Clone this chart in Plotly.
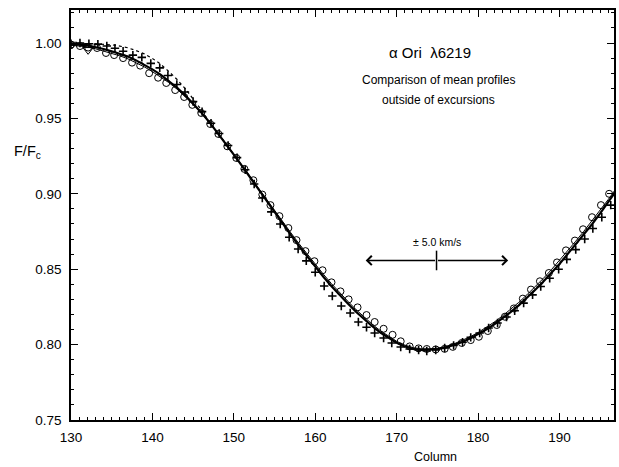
import plotly.graph_objects as go

# ---------------- data ----------------
col = list(range(130, 198))
main_profile = [0.9990, 0.9990, 0.9985, 0.9975, 0.9960, 0.9945, 0.9928, 0.9910, 0.9885, 0.9857,
                0.9825, 0.9790, 0.9750, 0.9705, 0.9655, 0.9600, 0.9540, 0.9475, 0.9405, 0.9333,
                0.9260, 0.9185, 0.9108, 0.9030, 0.8953, 0.8877, 0.8802, 0.8728, 0.8655, 0.8584,
                0.8515, 0.8450, 0.8387, 0.8328, 0.8272, 0.8218, 0.8168, 0.8122, 0.8080, 0.8043,
                0.8012, 0.7988, 0.7972, 0.7965, 0.7965, 0.7970, 0.7980, 0.7996, 0.8016, 0.8040,
                0.8068, 0.8100, 0.8135, 0.8173, 0.8215, 0.8260, 0.8310, 0.8362, 0.8417, 0.8475,
                0.8535, 0.8600, 0.8665, 0.8730, 0.8798, 0.8870, 0.8945, 0.9022]
thin_profile = [0.9985, 0.9982, 0.9975, 0.9962, 0.9948, 0.9932, 0.9915, 0.9895, 0.9870, 0.9842,
                0.9810, 0.9776, 0.9738, 0.9695, 0.9647, 0.9594, 0.9536, 0.9473, 0.9406, 0.9336,
                0.9265, 0.9191, 0.9116, 0.9040, 0.8964, 0.8889, 0.8815, 0.8742, 0.8670, 0.8600,
                0.8532, 0.8467, 0.8404, 0.8344, 0.8288, 0.8233, 0.8182, 0.8135, 0.8092, 0.8054,
                0.8022, 0.7997, 0.7980, 0.7972, 0.7971, 0.7976, 0.7987, 0.8004, 0.8026, 0.8051,
                0.8080, 0.8113, 0.8150, 0.8190, 0.8233, 0.8280, 0.8330, 0.8383, 0.8438, 0.8496,
                0.8557, 0.8621, 0.8686, 0.8752, 0.8820, 0.8890, 0.8963, 0.9038]
dash_col = list(range(130, 151))
dash_profile = [0.9992, 0.9996, 0.9996, 0.9994, 0.9991, 0.9988, 0.9980, 0.9968, 0.9950, 0.9928,
                0.9898, 0.9860, 0.9812, 0.9760, 0.9700, 0.9632, 0.9558, 0.9478, 0.9405, 0.9333,
                0.9260]

circ_x = [130.0, 131.1, 132.1, 133.2, 134.3, 135.3, 136.4, 137.5, 138.5, 139.6, 140.7, 141.7,
          142.8, 143.9, 144.9, 146.0, 147.1, 148.1, 149.2, 150.3, 151.3, 152.4, 153.5, 154.5,
          155.6, 156.7, 157.7, 158.8, 159.9, 160.9, 162.0, 163.1, 164.1, 165.2, 166.3, 167.3,
          168.4, 169.5, 170.5, 171.6, 172.7, 173.7, 174.8, 175.9, 176.9, 178.0, 179.1, 180.1,
          181.2, 182.3, 183.3, 184.4, 185.5, 186.5, 187.6, 188.7, 189.7, 190.8, 191.9, 192.9,
          194.0, 195.1, 196.1]
circ_y = [0.9990, 0.9980, 0.9970, 0.9967, 0.9934, 0.9920, 0.9900, 0.9870, 0.9850, 0.9800,
          0.9770, 0.9735, 0.9688, 0.9642, 0.9590, 0.9536, 0.9463, 0.9397, 0.9315, 0.9238,
          0.9165, 0.9090, 0.8995, 0.8925, 0.8852, 0.8773, 0.8693, 0.8620, 0.8553, 0.8493,
          0.8413, 0.8353, 0.8300, 0.8247, 0.8196, 0.8150, 0.8105, 0.8065, 0.8022, 0.7988,
          0.7975, 0.7971, 0.7968, 0.7972, 0.7985, 0.8011, 0.8030, 0.8052, 0.8090, 0.8130,
          0.8185, 0.8240, 0.8305, 0.8365, 0.8420, 0.8475, 0.8545, 0.8625, 0.8690, 0.8765,
          0.8845, 0.8925, 0.9000]

plus_x = [130.0, 131.1, 132.2, 133.3, 134.4, 135.4, 136.4, 137.6, 138.7, 139.8, 140.9, 141.9,
          143.0, 144.0, 145.0, 146.1, 147.2, 148.2, 149.3, 150.4, 151.4, 152.5, 153.5, 154.6,
          155.7, 156.8, 157.9, 158.9, 160.0, 161.1, 162.1, 163.2, 164.3, 165.3, 166.3, 167.3,
          168.4, 169.4, 170.5, 171.6, 172.7, 173.7, 174.8, 175.9, 177.0, 178.1, 179.1, 180.2,
          181.3, 182.4, 183.5, 184.5, 185.6, 186.7, 187.7, 188.8, 189.9, 190.9, 192.0, 193.1,
          194.1, 195.2, 196.3]
plus_y = [0.9995, 1.0000, 0.9995, 0.9993, 0.9980, 0.9965, 0.9945, 0.9920, 0.9905, 0.9865,
          0.9835, 0.9785, 0.9725, 0.9675, 0.9612, 0.9545, 0.9468, 0.9400, 0.9320, 0.9240,
          0.9160, 0.9065, 0.8972, 0.8880, 0.8800, 0.8712, 0.8634, 0.8555, 0.8480, 0.8389,
          0.8322, 0.8256, 0.8210, 0.8150, 0.8115, 0.8077, 0.8044, 0.8011, 0.7984, 0.7971,
          0.7964, 0.7958, 0.7964, 0.7977, 0.7995, 0.8016, 0.8048, 0.8077, 0.8110, 0.8143,
          0.8183, 0.8225, 0.8275, 0.8330, 0.8385, 0.8440, 0.8500, 0.8565, 0.8630, 0.8700,
          0.8770, 0.8845, 0.8925]

tri_x = [130.1, 132.1]
tri_y = [0.9990, 0.9955]

x_ticks = [130, 140, 150, 160, 170, 180, 190]
y_ticks = [0.75, 0.80, 0.85, 0.90, 0.95, 1.00]

arrow_center = 174.9
arrow_left = 166.2
arrow_right = 183.7
arrow_y = 0.8558

FONT = "Liberation Sans, Arial, Helvetica, sans-serif"
NB = "\u00a0"

fig = go.Figure()
fig.add_trace(go.Scatter(x=col, y=thin_profile, mode="lines",
                         line=dict(color="black", width=1)))
fig.add_trace(go.Scatter(x=col, y=main_profile, mode="lines",
                         line=dict(color="black", width=2.2)))
fig.add_trace(go.Scatter(x=dash_col, y=dash_profile, mode="lines",
                         line=dict(color="black", width=1.2, dash="3px,3px")))
fig.add_trace(go.Scatter(x=circ_x, y=circ_y, mode="markers",
                         marker=dict(symbol="circle-open", size=7, color="black",
                                     line=dict(width=1, color="black"))))
fig.add_trace(go.Scatter(x=plus_x, y=plus_y, mode="markers",
                         marker=dict(symbol="cross-thin-open", size=6, color="black",
                                     line=dict(width=1.6, color="black"))))
fig.add_trace(go.Scatter(x=tri_x, y=tri_y, mode="markers",
                         marker=dict(symbol="triangle-down-open", size=9, color="black",
                                     line=dict(width=1, color="black"))))

axis_common = dict(showline=True, linecolor="black", linewidth=1.5, mirror="ticks",
                   ticks="inside", ticklen=7, tickwidth=1.2, tickcolor="black",
                   showgrid=False, zeroline=False,
                   tickfont=dict(family=FONT, size=13.5, color="black"))

fig.update_xaxes(range=[130, 196.7], tickvals=x_ticks, ticklabelstandoff=4,
                 minor=dict(dtick=1, tick0=130, ticks="inside", ticklen=3.5,
                            tickwidth=1, tickcolor="black"),
                 **axis_common)
fig.update_yaxes(range=[0.75, 1.0219], tickvals=y_ticks, tickformat=".2f",
                 ticklabelstandoff=5,
                 minor=dict(dtick=0.01, tick0=0.75, ticks="inside", ticklen=3.5,
                            tickwidth=1, tickcolor="black"),
                 **axis_common)

W, H = 619, 467
L, R, T, B = 71, 3, 10, 47
pw, ph = W - L - R, H - T - B


def px(xp):
    return (xp - L) / pw


def py(yp):
    return 1 - (yp - T) / ph


anns = [
    dict(x=px(431), y=py(53), text="α Ori" + NB + NB + "λ6219", size=15),
    dict(x=px(440), y=py(80), text="Comparison of mean profiles", size=12),
    dict(x=px(440), y=py(100), text="outside of excursions", size=12),
]
anns = [dict(x=a["x"], y=a["y"], xref="paper", yref="paper", text=a["text"],
             showarrow=False, xanchor="center", yanchor="middle",
             font=dict(family=FONT, size=a["size"], color="black")) for a in anns]
# axis titles
anns.append(dict(x=px(27), y=py(152), xref="paper", yref="paper",
                 text="F/F<sub>c</sub>", showarrow=False, xanchor="center", yanchor="middle",
                 font=dict(family=FONT, size=14.5, color="black")))
anns.append(dict(x=px(437), y=py(457), xref="paper", yref="paper",
                 text="Column", showarrow=False, xanchor="center", yanchor="middle",
                 font=dict(family=FONT, size=12.5, color="black")))
# velocity arrow
for end in (arrow_left, arrow_right):
    anns.append(dict(x=end, y=arrow_y, xref="x", yref="y", ax=arrow_center, ay=arrow_y,
                     axref="x", ayref="y", text="", showarrow=True, arrowhead=4,
                     arrowsize=1.2, arrowwidth=1.5, arrowcolor="black"))
anns.append(dict(x=arrow_center, y=arrow_y, xref="x", yref="y", text="± 5.0 km/s",
                 showarrow=False, yshift=18, font=dict(family=FONT, size=10.5, color="black")))

fig.add_shape(type="line", xref="x", yref="y", x0=arrow_center, x1=arrow_center,
              y0=arrow_y - 0.0065, y1=arrow_y + 0.0065, line=dict(color="black", width=1.5))

fig.update_layout(width=W, height=H, margin=dict(l=L, r=R, t=T, b=B),
                  paper_bgcolor="white", plot_bgcolor="white", showlegend=False,
                  annotations=anns)

fig.write_html("out.html", config={"displayModeBar": False},
               post_script="document.body.style.margin='0px';"
                           "document.body.style.overflow='hidden';")
